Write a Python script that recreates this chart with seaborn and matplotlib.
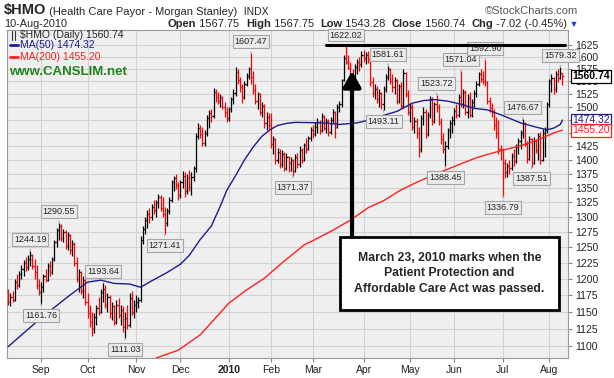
import matplotlib
matplotlib.use("Agg")
import matplotlib.pyplot as plt
import numpy as np
import pandas as pd
import seaborn as sns
from matplotlib.patches import Rectangle
from matplotlib.lines import Line2D
from matplotlib.ticker import FixedLocator, FuncFormatter, NullLocator

# daily bars, Aug 11 2009 .. Aug 10 2010 (one row per month)
opens = [
    1180, 1165, 1172, 1168, 1195, 1190, 1208, 1215, 1225, 1218, 1232, 1238, 1220, 1210, 1190,
    1180, 1188, 1205, 1198, 1220, 1210, 1232, 1258, 1278, 1285, 1266, 1275, 1252, 1270, 1245, 1255, 1225, 1200, 1210, 1182, 1198,
    1165, 1148, 1135, 1125, 1142, 1155, 1150, 1180, 1185, 1160, 1172, 1148, 1158, 1135, 1160, 1145, 1152, 1128, 1140, 1130, 1170, 1150,
    1160, 1165, 1168, 1262, 1280, 1295, 1305, 1300, 1318, 1312, 1325, 1335, 1315, 1305, 1290, 1310, 1330, 1360, 1368, 1355,
    1338, 1360, 1372, 1345, 1368, 1352, 1370, 1385, 1445, 1460, 1448, 1432, 1450, 1478, 1488, 1482, 1530, 1520, 1512, 1520, 1500, 1490,
    1478, 1495, 1515, 1528, 1570, 1552, 1538, 1520, 1545, 1562, 1575, 1560, 1532, 1512, 1525, 1490, 1502, 1468, 1480,
    1465, 1430, 1438, 1400, 1415, 1392, 1410, 1385, 1405, 1395, 1400, 1380, 1405, 1392, 1418, 1400, 1428, 1420, 1440,
    1455, 1448, 1462, 1470, 1455, 1482, 1460, 1472, 1452, 1475, 1490, 1462, 1500, 1505, 1552, 1598, 1590, 1578, 1562, 1548, 1580, 1590, 1585,
    1605, 1598, 1605, 1595, 1548, 1528, 1535, 1515, 1528, 1505, 1535, 1560, 1575, 1550, 1538, 1552, 1512, 1540, 1502, 1568, 1525,
    1490, 1500, 1462, 1472, 1450, 1420, 1478, 1490, 1448, 1485, 1515, 1472, 1505, 1500, 1470, 1438, 1420, 1425, 1455, 1468,
    1475, 1492, 1485, 1520, 1505, 1530, 1490, 1518, 1485, 1510, 1528, 1545, 1565, 1555, 1550, 1548, 1512, 1498, 1490, 1465, 1450, 1420,
    1418, 1395, 1378, 1390, 1385, 1408, 1398, 1425, 1435, 1450, 1468, 1430, 1402, 1438, 1395, 1435, 1418, 1445, 1400, 1450, 1455,
    1505, 1550, 1558, 1535, 1565, 1558, 1567.75,
]
highs = [
    1184, 1178, 1182, 1200, 1208, 1212, 1222, 1230, 1235, 1238, 1244.19, 1240, 1232, 1222, 1200,
    1195, 1208, 1215, 1225, 1228, 1235, 1262, 1282, 1290.55, 1288, 1280, 1278, 1275, 1272, 1262, 1258, 1235, 1215, 1212, 1205, 1200,
    1178, 1160, 1150, 1148, 1160, 1172, 1185, 1193.64, 1190, 1178, 1175, 1165, 1160, 1168, 1170, 1160, 1158, 1150, 1160, 1178, 1182, 1168,
    1175, 1172, 1268, 1285, 1300, 1312, 1315, 1322, 1330, 1330, 1340, 1338, 1335, 1318, 1315, 1335, 1365, 1372, 1375, 1360,
    1365, 1380, 1378, 1375, 1382, 1378, 1390, 1450, 1468, 1465, 1462, 1455, 1485, 1494, 1495, 1537, 1535, 1530, 1526, 1522, 1510, 1500,
    1500, 1520, 1535, 1579, 1575, 1560, 1545, 1550, 1568, 1580, 1607.47, 1572, 1545, 1530, 1528, 1510, 1505, 1490, 1488,
    1488, 1445, 1440, 1422, 1420, 1418, 1415, 1412, 1408, 1405, 1402, 1410, 1412, 1425, 1422, 1432, 1440, 1445, 1462,
    1465, 1470, 1478, 1475, 1488, 1485, 1478, 1476, 1480, 1495, 1492, 1505, 1512, 1555, 1604, 1622.02, 1605, 1590, 1575, 1585, 1595, 1600, 1612,
    1615, 1610, 1612, 1600, 1560, 1545, 1540, 1535, 1530, 1540, 1565, 1581.61, 1578, 1565, 1560, 1555, 1545, 1548, 1576, 1570, 1532,
    1508, 1505, 1480, 1478, 1462, 1485, 1500, 1495, 1490, 1522, 1520, 1510, 1523.72, 1505, 1478, 1450, 1435, 1460, 1475, 1482,
    1498, 1505, 1525, 1571.04, 1535, 1532, 1525, 1530, 1515, 1532, 1550, 1570, 1575, 1572, 1592.90, 1550, 1520, 1508, 1495, 1480, 1475, 1428,
    1422, 1402, 1395, 1400, 1412, 1420, 1430, 1440, 1455, 1476.67, 1470, 1435, 1445, 1440, 1442, 1438, 1450, 1452, 1458, 1462, 1510,
    1555, 1565, 1560, 1572, 1575, 1579.32, 1567.75,
]
lows = [
    1160, 1158, 1165, 1166, 1185, 1188, 1200, 1205, 1212, 1214, 1220, 1215, 1200, 1185, 1175,
    1161.76, 1180, 1195, 1196, 1205, 1208, 1228, 1250, 1262, 1260, 1258, 1248, 1245, 1240, 1236, 1220, 1195, 1180, 1176, 1170, 1160,
    1140, 1128, 1114, 1118, 1130, 1145, 1148, 1165, 1155, 1150, 1140, 1138, 1130, 1132, 1140, 1130, 1120, 1111.03, 1125, 1128, 1145, 1140,
    1150, 1155, 1165, 1255, 1272, 1282, 1290, 1295, 1305, 1300, 1315, 1310, 1300, 1271.41, 1285, 1305, 1325, 1345, 1348, 1330,
    1332, 1350, 1335, 1340, 1345, 1338, 1362, 1378, 1438, 1440, 1425, 1425, 1445, 1460, 1470, 1478, 1510, 1505, 1500, 1495, 1480, 1470,
    1472, 1490, 1505, 1522, 1545, 1530, 1508, 1515, 1540, 1555, 1545, 1525, 1505, 1495, 1485, 1480, 1460, 1455, 1458,
    1422, 1410, 1392, 1395, 1385, 1388, 1380, 1382, 1378, 1380, 1371.37, 1378, 1385, 1388, 1395, 1398, 1412, 1418, 1435,
    1440, 1445, 1450, 1448, 1452, 1455, 1450, 1445, 1448, 1468, 1440, 1460, 1490, 1500, 1550, 1585, 1575, 1562, 1555, 1545, 1565, 1572, 1580,
    1590, 1585, 1588, 1540, 1520, 1515, 1508, 1500, 1495, 1493.11, 1530, 1552, 1545, 1530, 1525, 1505, 1508, 1495, 1498, 1520, 1485,
    1470, 1455, 1450, 1440, 1405, 1415, 1465, 1440, 1445, 1478, 1465, 1468, 1490, 1465, 1430, 1412, 1388.45, 1420, 1440, 1450,
    1465, 1478, 1480, 1500, 1498, 1485, 1478, 1480, 1480, 1500, 1520, 1540, 1548, 1545, 1540, 1505, 1490, 1480, 1455, 1440, 1410, 1400,
    1336.79, 1368, 1370, 1375, 1382, 1390, 1395, 1410, 1420, 1440, 1425, 1395, 1400, 1387.51, 1392, 1412, 1400, 1392, 1398, 1405, 1450,
    1500, 1530, 1525, 1530, 1548, 1555, 1543.28,
]
closes = [
    1165, 1172, 1168, 1195, 1190, 1208, 1215, 1225, 1218, 1232, 1238, 1220, 1210, 1190, 1180,
    1188, 1205, 1198, 1220, 1210, 1232, 1258, 1278, 1285, 1266, 1275, 1252, 1270, 1245, 1255, 1225, 1200, 1210, 1182, 1198, 1165,
    1148, 1135, 1125, 1142, 1155, 1150, 1180, 1185, 1160, 1172, 1148, 1158, 1135, 1160, 1145, 1152, 1128, 1140, 1130, 1170, 1150, 1160,
    1165, 1168, 1262, 1280, 1295, 1305, 1300, 1318, 1312, 1325, 1335, 1315, 1305, 1290, 1310, 1330, 1360, 1368, 1355, 1338,
    1360, 1372, 1345, 1368, 1352, 1370, 1385, 1445, 1460, 1448, 1432, 1450, 1478, 1488, 1482, 1530, 1520, 1512, 1520, 1500, 1490, 1478,
    1495, 1515, 1528, 1570, 1552, 1538, 1520, 1545, 1562, 1575, 1560, 1532, 1512, 1525, 1490, 1502, 1468, 1480, 1465,
    1430, 1438, 1400, 1415, 1392, 1410, 1385, 1405, 1395, 1400, 1380, 1405, 1392, 1418, 1400, 1428, 1420, 1440, 1455,
    1448, 1462, 1470, 1455, 1482, 1460, 1472, 1452, 1475, 1490, 1462, 1500, 1505, 1552, 1598, 1590, 1578, 1562, 1548, 1580, 1590, 1585, 1605,
    1598, 1605, 1595, 1548, 1528, 1535, 1515, 1528, 1505, 1535, 1560, 1575, 1550, 1538, 1552, 1512, 1540, 1502, 1568, 1525, 1490,
    1500, 1462, 1472, 1450, 1420, 1478, 1490, 1448, 1485, 1515, 1472, 1505, 1500, 1470, 1438, 1420, 1425, 1455, 1468, 1475,
    1492, 1485, 1520, 1505, 1530, 1490, 1518, 1485, 1510, 1528, 1545, 1565, 1555, 1550, 1548, 1512, 1498, 1490, 1465, 1450, 1420, 1418,
    1395, 1378, 1390, 1385, 1408, 1398, 1425, 1435, 1450, 1468, 1430, 1402, 1438, 1395, 1435, 1418, 1445, 1400, 1450, 1455, 1505,
    1550, 1558, 1535, 1565, 1558, 1567.76, 1560.74,
]

# moving averages (bar index, value)
ma50_idx = [0, 15, 28, 36, 42, 48, 55, 60, 64, 72, 78, 82, 87, 92, 96, 99, 103, 107, 111, 115, 119, 122, 126, 130, 143,
            150, 158, 163, 168, 176, 183, 188, 193, 199, 205, 211, 217, 224, 232, 239, 244, 247, 250, 251]
ma50_val = [1099, 1141, 1175, 1195, 1198, 1193, 1192, 1187, 1195, 1210, 1223, 1237, 1263, 1285, 1318, 1346, 1372, 1400, 1424, 1444, 1457, 1464, 1468, 1470, 1469,
            1466, 1469, 1474, 1481, 1491, 1507, 1512, 1514, 1511, 1505, 1497, 1494, 1483, 1469, 1461, 1456, 1459, 1466, 1474.32]
ma200_idx = [67, 77, 87, 100, 108, 116, 125, 134, 138, 147, 155, 163, 170, 178, 185, 193, 205, 212, 217, 224, 232, 240, 247, 251]
ma200_val = [1083, 1094, 1116, 1163, 1183, 1201, 1228, 1254, 1261, 1278, 1295, 1316, 1328, 1347, 1360, 1374, 1393, 1404, 1410, 1418, 1426, 1437, 1450, 1455.20]

peak_idx = [10, 23, 43, 110, 153, 172, 194, 205, 216, 233, 250]
trough_idx = [15, 53, 71, 129, 170, 198, 224, 237]
resistance = 1625
holidays = ['2009-09-07', '2009-11-26', '2009-12-25', '2010-01-01', '2010-01-18',
            '2010-02-15', '2010-04-02', '2010-05-31', '2010-07-05']

dates = pd.bdate_range('2009-08-11', '2010-08-10', freq='C', holidays=holidays)
idx = np.arange(len(closes))
o, h, l, c = map(np.array, (opens, highs, lows, closes))
prev = np.r_[o[0], c[:-1]]
colors = np.where(c < prev, '#FF0000', '#000000')

sns.set_theme(style="white")
plt.rcParams['font.family'] = ['Liberation Sans', 'DejaVu Sans']

fig = plt.figure(figsize=(6.14, 3.78), dpi=100)
ax = fig.add_axes([7 / 614, 20 / 378, 561 / 614, 328 / 378])
ax.set_facecolor('#EFEFEF')

ax.vlines(idx, l, h, colors=colors, lw=0.9, zorder=3)
ax.hlines(o, idx - 0.5, idx, colors=colors, lw=0.9, zorder=3)
ax.hlines(c, idx, idx + 0.5, colors=colors, lw=0.9, zorder=3)

sns.lineplot(x=ma50_idx, y=ma50_val, ax=ax, color='#1C1C8E', lw=1.0, zorder=4)
sns.lineplot(x=ma200_idx, y=ma200_val, ax=ax, color='#FF2020', lw=1.0, zorder=4)

ax.set_yscale('log')
ax.set_ylim(1083, 1657)
ax.set_xlim(-0.5, 253.5)
ax.yaxis.set_major_locator(FixedLocator(np.arange(1100, 1626, 25)))
ax.yaxis.set_minor_locator(NullLocator())
# 1450 / 1475 sit under the MA value tags
ax.yaxis.set_major_formatter(FuncFormatter(lambda v, p: '' if round(v) in (1450, 1475) else f'{v:.0f}'))
ax.yaxis.tick_right()

period = dates.to_period('M')
starts = np.where(period[1:] != period[:-1])[0] + 1
ax.set_xticks(starts)
ax.set_xticklabels(['2010' if dates[s].month == 1 else dates[s].strftime('%b') for s in starts])
for t in ax.get_xticklabels():
    if t.get_text() == '2010':
        t.set_fontweight('bold')

ax.grid(True, color='#D2D2D2', lw=0.8, zorder=0)
ax.set_axisbelow(True)
ax.tick_params(axis='both', labelsize=7.5, length=3, color='#888888', pad=2,
               labelcolor='#222222', direction='out', width=0.8)
ax.tick_params(axis='y', right=True, left=False)
ax.tick_params(axis='x', bottom=True)
for s in ax.spines.values():
    s.set_color('#9A9A9A')
    s.set_linewidth(0.8)
ax.set_xlabel('')
ax.set_ylabel('')

# price labels on swing highs / lows
box = dict(boxstyle='square,pad=0.22', fc='#EBEBEB', ec='#A5A5A5', lw=0.8)
for i in peak_idx:
    ax.annotate(f'{h[i]:.2f}', xy=(i, h[i]), xytext=(0, 5), textcoords='offset points',
                ha='center', va='bottom', fontsize=6.5, bbox=box, zorder=5,
                arrowprops=dict(arrowstyle='-', color='#A5A5A5', lw=0.8))
for i in trough_idx:
    ax.annotate(f'{l[i]:.2f}', xy=(i, l[i]), xytext=(0, -5), textcoords='offset points',
                ha='center', va='top', fontsize=6.5, bbox=box, zorder=5,
                arrowprops=dict(arrowstyle='-', color='#A5A5A5', lw=0.8))

ax.axhline(resistance, xmin=0.569, xmax=0.995, color='black', lw=2.2, zorder=6)

# arrow + note
ax.annotate('', xy=(0.615, 0.875), xytext=(0.615, 0.37), xycoords='axes fraction',
            arrowprops=dict(arrowstyle='-|>,head_width=0.45,head_length=0.8', lw=3,
                            color='black', mutation_scale=12, shrinkA=0, shrinkB=0), zorder=7)
ax.add_patch(Rectangle((0.594, 0.146), 0.390, 0.223, transform=ax.transAxes,
                       fc='white', ec='black', lw=2, zorder=8))
ax.text(0.789, 0.258, 'March 23, 2010 marks when the\nPatient Protection and\nAffordable Care Act was passed.',
        transform=ax.transAxes, ha='center', va='center', fontsize=8.8, fontweight='bold',
        linespacing=1.35, zorder=9)

# legend block
ax.text(0.023, 0.985, '$HMO (Daily) 1560.74', transform=ax.transAxes, fontsize=7.5, va='center', zorder=6)
ax.add_line(Line2D([0.009, 0.009], [0.968, 0.998], transform=ax.transAxes, color='#333333', lw=0.8))
ax.add_line(Line2D([0.015, 0.015], [0.968, 0.998], transform=ax.transAxes, color='#333333', lw=0.8))
ax.add_line(Line2D([0.005, 0.019], [0.954, 0.954], transform=ax.transAxes, color='#1C1C8E', lw=2))
ax.text(0.023, 0.954, 'MA(50) 1474.32', transform=ax.transAxes, fontsize=7.5, va='center', color='#1C1C8E')
ax.add_line(Line2D([0.005, 0.019], [0.919, 0.919], transform=ax.transAxes, color='#FF2020', lw=2))
ax.text(0.023, 0.919, 'MA(200) 1455.20', transform=ax.transAxes, fontsize=7.5, va='center', color='#FF2020')
ax.text(0.004, 0.872, 'www.CANSLIM.net', transform=ax.transAxes, fontsize=9.5, va='center',
        color='#1E821E', fontweight='bold')

# right-side value tags
for val, txt, col, wt in [(1560.74, '1560.74', 'black', 'bold'),
                          (1474.32, '1474.32', '#1C1C8E', 'normal'),
                          (1455.20, '1455.20', '#FF2020', 'normal')]:
    ax.annotate(txt, xy=(1, val), xycoords=('axes fraction', 'data'), xytext=(3, 0),
                textcoords='offset points', ha='left', va='center', fontsize=7.5, color=col,
                fontweight=wt, annotation_clip=False, zorder=10,
                bbox=dict(boxstyle='square,pad=0.15', fc='white', ec=col, lw=0.9))

# header
t1 = fig.text(4 / 614, 1 - 14 / 378, '$HMO', fontsize=10.5, fontweight='bold', va='baseline')
t2 = ax.annotate(' (Health Care Payor - Morgan Stanley)', xy=(1, 0), xycoords=t1, fontsize=8,
                 va='bottom', annotation_clip=False)
ax.annotate('  INDX', xy=(1, 0), xycoords=t2, fontsize=7.5, va='bottom', annotation_clip=False)
fig.text(578 / 614, 1 - 14 / 378, '\u00a9StockCharts.com', fontsize=8, color='#555555', ha='right', va='baseline')
fig.text(4 / 614, 1 - 27 / 378, '10-Aug-2010', fontsize=7.8, va='baseline')
pieces = [('Open', 'bold'), (' 1567.75  ', 'normal'), ('High', 'bold'), (' 1567.75  ', 'normal'),
          ('Low', 'bold'), (' 1543.28  ', 'normal'), ('Close', 'bold'), (' 1560.74  ', 'normal'),
          ('Chg', 'bold'), (' -7.02 (-0.45%)', 'normal')]
prev = fig.text(168 / 614, 1 - 27 / 378, pieces[0][0], fontsize=8, fontweight='bold', va='baseline')
for s, w in pieces[1:]:
    prev = ax.annotate(s, xy=(1, 0), xycoords=prev, fontsize=8, fontweight=w, va='bottom',
                       annotation_clip=False)
ax.annotate(' \u25bc', xy=(1, 0), xycoords=prev, fontsize=6.5, color='#2040D0', va='bottom',
            annotation_clip=False)

fig.savefig('out.png', dpi=100, facecolor='white')
